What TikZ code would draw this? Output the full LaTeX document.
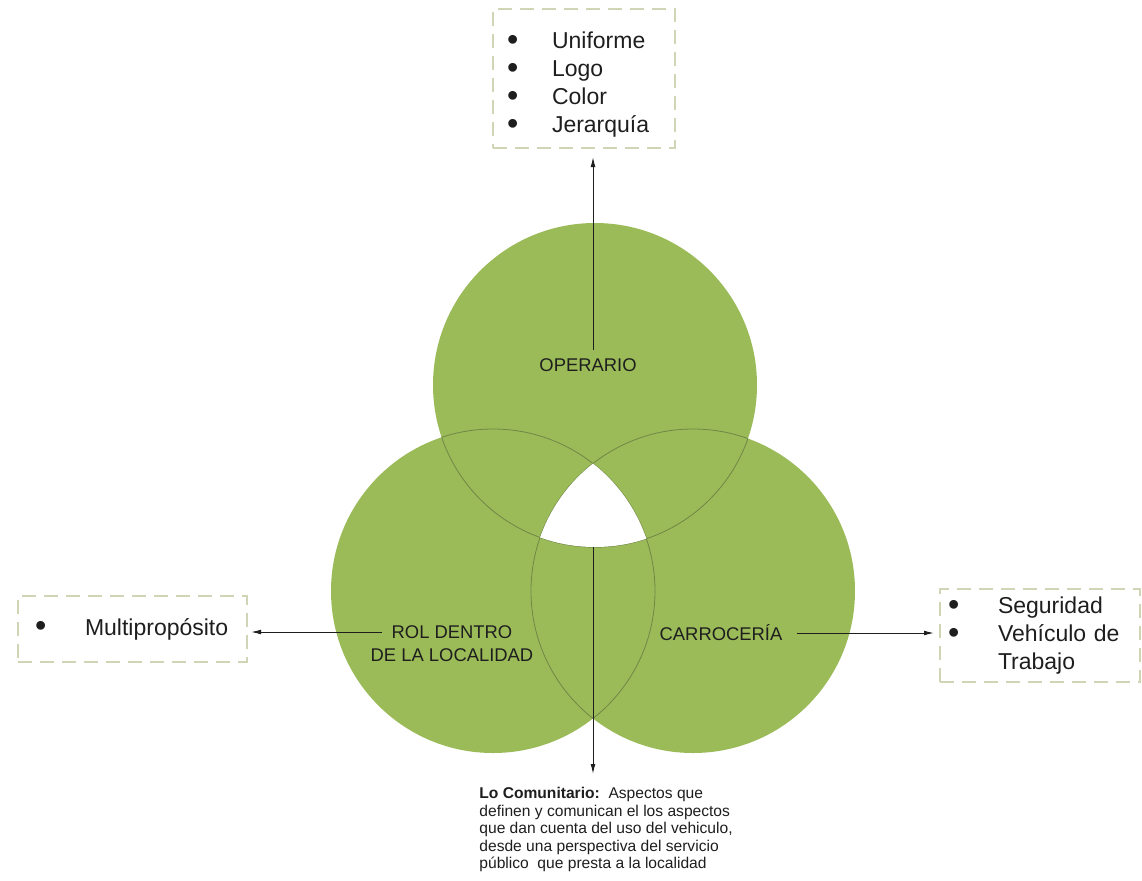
\documentclass[tikz,border=0pt]{standalone}
\usepackage{fontspec}
\setmainfont{Liberation Sans}
\usetikzlibrary{arrows.meta}
\definecolor{verde}{RGB}{155,187,89}
\definecolor{borde}{RGB}{112,135,70}
\definecolor{caja}{RGB}{208,213,182}
\definecolor{texto}{RGB}{30,30,30}
\newcommand\punto[1][25pt]{\makebox[#1][l]{\smash{\raisebox{-0.15ex}{\scalebox{1.4}{\textbullet}}}}}
\tikzset{
  lista/.style={draw=caja, line width=1pt, dash pattern=on 7pt off 4pt, inner ysep=0pt, align=left, font=\fontsize{11.5}{14}\selectfont, text=texto},
  etiqueta/.style={font=\fontsize{9.2}{11.5}\selectfont, align=center, text=texto, inner sep=4pt},
  flecha/.style={draw=texto, line width=0.5pt, -{Latex[length=5pt,width=2.4pt]}}
}

\begin{document}
\begin{tikzpicture}[x=0.5pt,y=-0.5pt]
	\useasboundingbox (0,0) rectangle (1142,880);
	\coordinate (O) at (595,385);
	\coordinate (L) at (493,591);
	\coordinate (K) at (693,591);
	\coordinate (eje) at (593,547);
	\coordinate (fila) at (0,632);
	\coordinate (ini) at (382,632);
	
	\fill[verde] (O) circle[radius=81pt] (L) circle[radius=81pt] (K) circle[radius=81pt];
	\foreach \a/\b in {O/L,O/K,L/O,L/K,K/O,K/L}{
		\begin{scope}
			\clip (\b) circle[radius=81pt];
			\draw[borde, line width=0.4pt] (\a) circle[radius=81pt];
		\end{scope}
	}
	\begin{scope}
		\clip (O) circle[radius=81pt];
		\clip (L) circle[radius=81pt];
		\fill[white] (K) circle[radius=81pt];
	\end{scope}
	
	\node[etiqueta] (op) at (588,365) {OPERARIO};
	\node[etiqueta] (rol) at (452,644) {ROL DENTRO\\DE LA LOCALIDAD};
	\node[etiqueta] (car) at (721,633) {CARROCERÍA};
	
	\node[lista, minimum height=69.5pt, text width=77pt, inner xsep=7pt] (arriba) at (584,78.5)
		{\rule{0pt}{14.5pt}\punto[22.5pt]Uniforme\\\punto[22.5pt]Logo\\\punto[22.5pt]Color\\\punto[22.5pt]Jerarquía};
	\node[lista, minimum height=33pt, text width=97.5pt, inner xsep=8.5pt] (izq) at (132.5,629)
		{\punto Multipropósito};
	\node[lista, minimum height=46.5pt, text width=92pt, inner xsep=4pt] (der) at (1040,635.5)
		{\punto Seguridad\\\punto Vehículo de\\\hspace*{25pt}Trabajo};
	
	\node[anchor=north west, align=left, inner sep=0pt, font=\fontsize{7.8}{8.75}\selectfont, text=texto] (nota) at (479,787)
		{\textbf{Lo Comunitario:}\ \ Aspectos que\\
		definen y comunican el los aspectos\\
		que dan cuenta del uso del vehiculo,\\
		desde una perspectiva del servicio\\
		público\ \ que presta a la localidad};
	
	\draw[flecha, shorten >=4pt] (eje |- op.north) -- (eje |- arriba.south);
	\draw[flecha, shorten >=6.5pt] (eje) -- (eje |- nota.north);
	\draw[flecha, shorten >=1.5pt] (ini) -- (izq.east |- fila);
	\draw[flecha, shorten <=3pt, shorten >=2.5pt] (car.east) -- (der.west |- car.east);
\end{tikzpicture}
\end{document}
